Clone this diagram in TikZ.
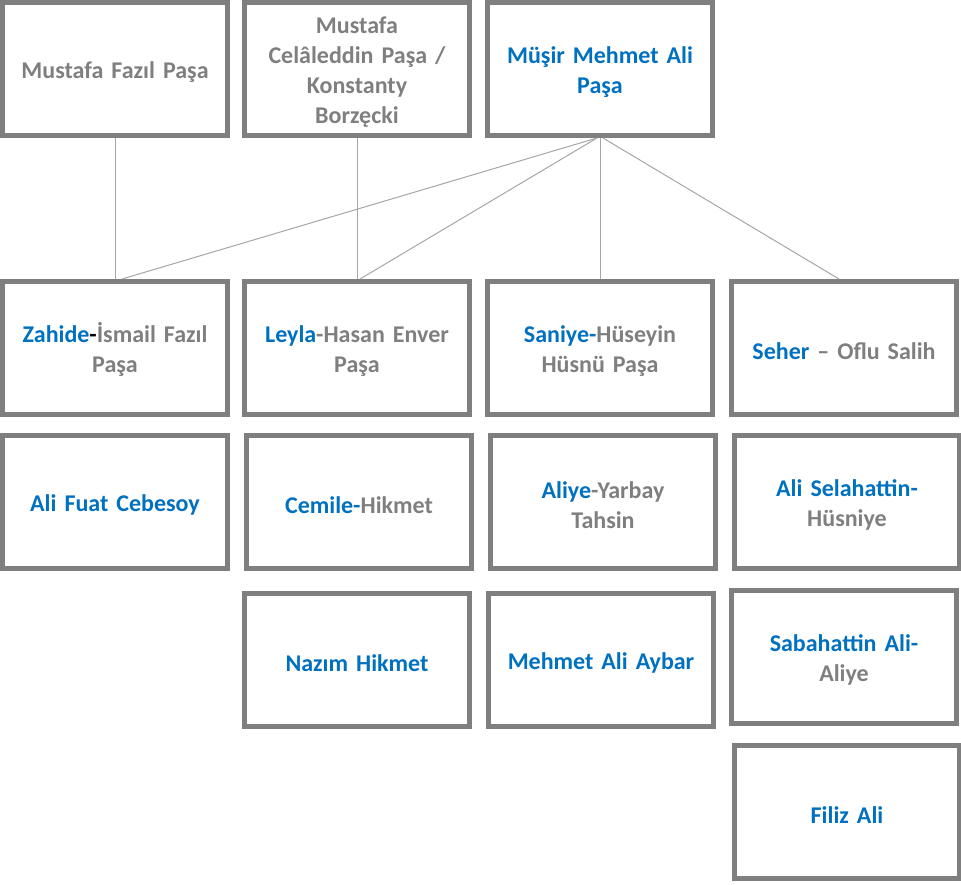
\documentclass[tikz,border=0pt]{standalone}
\usepackage{fontspec}
\setmainfont{Carlito}[WordSpace=0.8]
\usetikzlibrary{positioning}
\definecolor{boxgray}{HTML}{7F7F7F}
\definecolor{linkgray}{HTML}{A6A6A6}
\definecolor{nameblue}{HTML}{0070C0}
\newcommand{\bl}[1]{\textcolor{nameblue}{#1}}

\begin{document}
\begin{tikzpicture}[x=1pt,y=-1pt,
        person/.style={draw=boxgray, line width=5pt, minimum width=225pt, minimum height=133pt,
            text width=215pt, align=center, inner sep=0pt, text=boxgray,
            execute at begin node={\rule{0pt}{23pt}},
            font=\fontsize{24}{30}\selectfont\bfseries},
        link/.style={draw=linkgray, line width=1pt}]
        \useasboundingbox (0,0) rectangle (961,884);

        % top row
        \node[person] (mfp) at (115,69) {Mustafa Fazıl Paşa};
        \node[person, right=12pt of mfp] (mcp) {Mustafa\\Celâleddin Paşa /\\Konstanty\\Borzęcki};
        \node[person, right=13pt of mcp] (mma) {\bl{Müşir Mehmet Ali}\\\bl{Paşa}};

        % children
        \node[person, below=141pt of mfp] (zip) {\bl{Zahide}\textcolor{black}{-}İsmail Fazıl\\Paşa};
        \node[person, below=141pt of mcp] (hep) {\bl{Leyla}-Hasan Enver\\Paşa};
        \node[person, below=141pt of mma] (hhp) {\bl{Saniye-}Hüseyin\\Hüsnü Paşa};
        \node[person, right=14pt of hhp] (sos) {\bl{Seher} – Oflu Salih};

        % grandchildren
        \node[person, below=16pt of zip] (afc) {\bl{Ali Fuat Cebesoy}};
        \node[person, below=16pt of hep, xshift=2pt] (ceh) {\bl{Cemile-}Hikmet};
        \node[person, below=16pt of hhp, xshift=3pt] (ayt) {\bl{Aliye}-Yarbay\\Tahsin};
        \node[person, below=16pt of sos, xshift=3pt] (ash) {\bl{Ali Selahattin-}\\Hüsniye};
        \node[person, below=20pt of ceh, xshift=-2pt] (nh) {\bl{Nazım Hikmet}};
        \node[person, below=20pt of ayt, xshift=-2pt] (maa) {\bl{Mehmet Ali Aybar}};
        \node[person, below=17pt of ash, xshift=-3pt] (saa) {\bl{Sabahattin Ali-}\\Aliye};
        \node[person, below=17pt of saa, xshift=3pt] (fa) {\bl{Filiz Ali}};

        \draw[link] (mfp.south) -- (zip.north);
        \draw[link] (mcp.south) -- (hep.north);
        \draw[link] ([xshift=-3pt]mma.south) -- ([xshift=7pt]zip.north);
        \draw[link] ([xshift=-3pt]mma.south) -- ([xshift=3pt]hep.north);
        \draw[link] (mma.south) -- (hhp.north);
        \draw[link] ([xshift=3pt]mma.south) -- ([xshift=-5pt]sos.north);
    \end{tikzpicture}
\end{document}
